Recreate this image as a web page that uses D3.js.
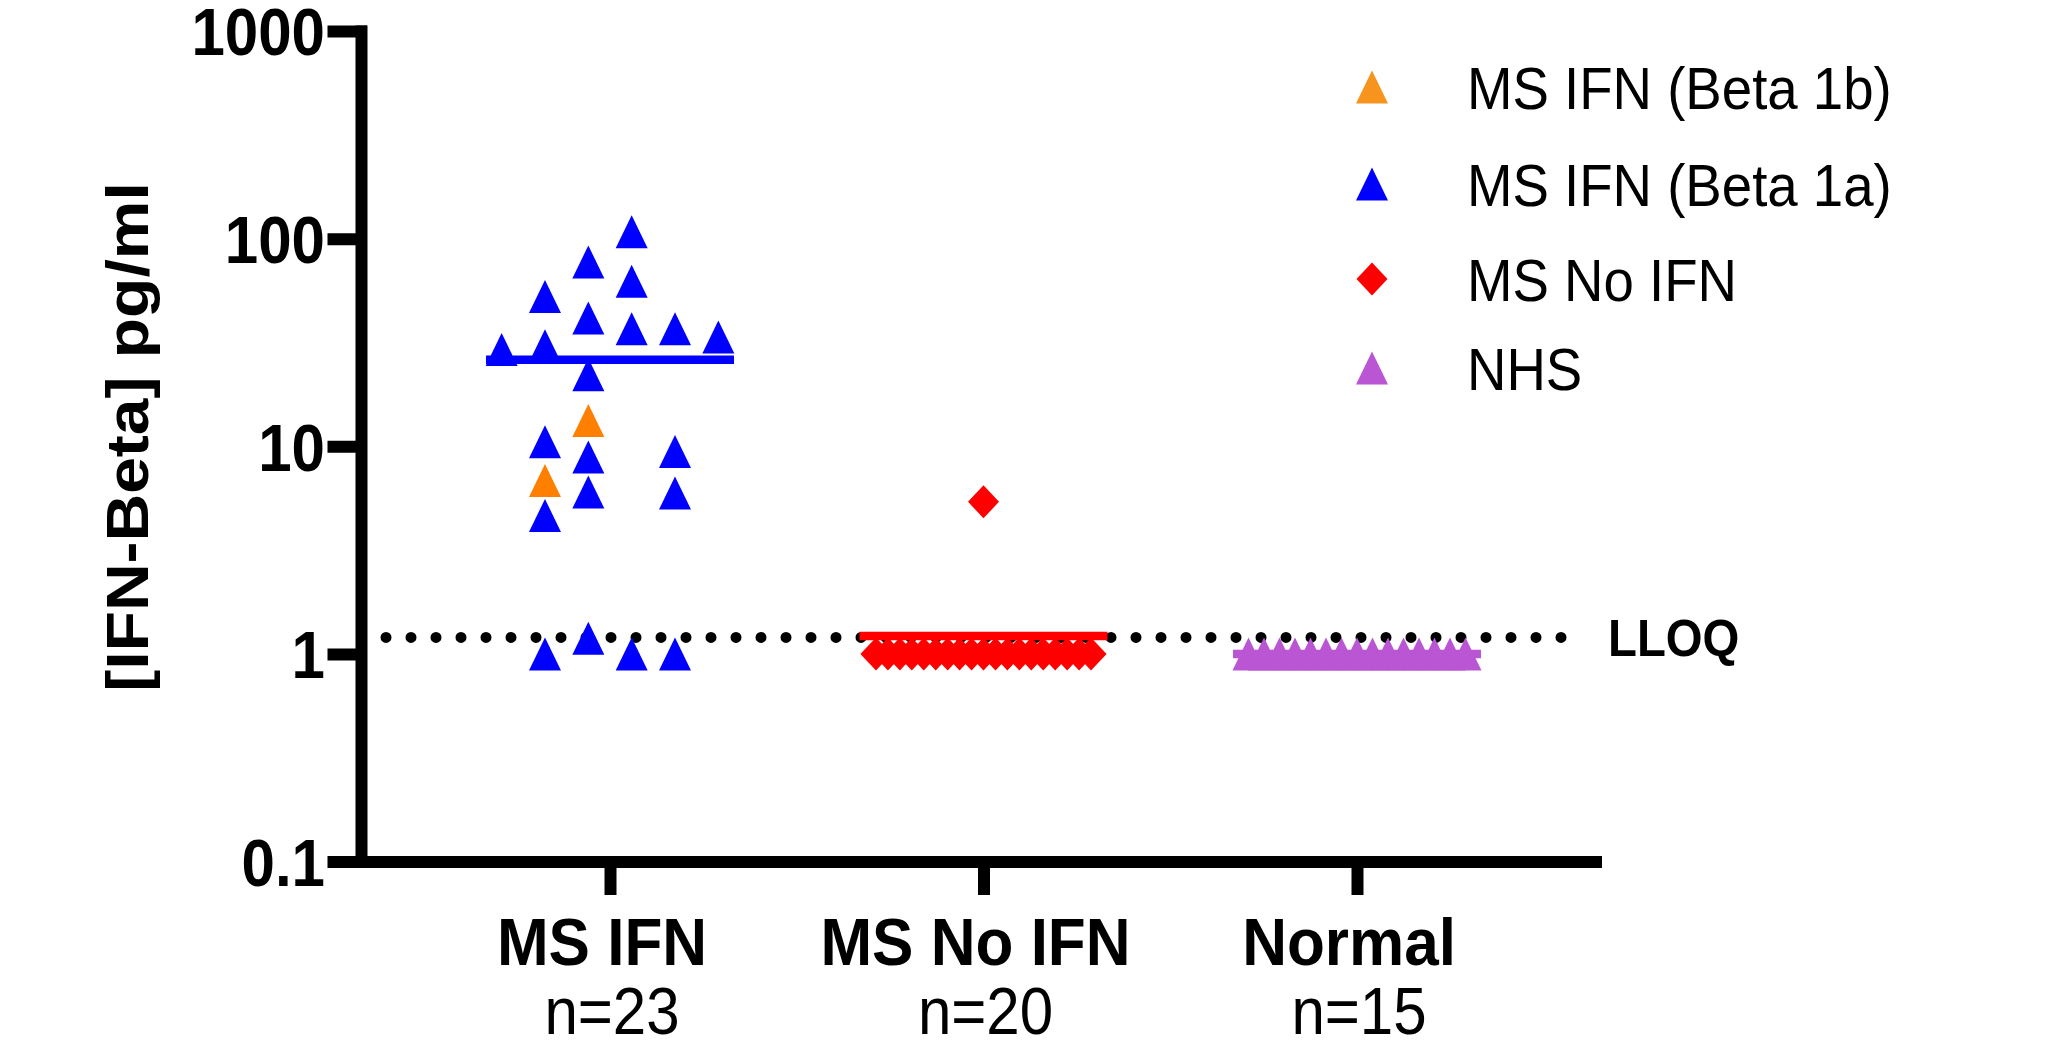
<!DOCTYPE html>
<html>
<head>
<meta charset="utf-8">
<script src="https://cdn.jsdelivr.net/npm/d3@7"></script>
<style>
  body { margin: 0; background: #fff; }
  text { font-family: "Liberation Sans", Arial, Helvetica, sans-serif; fill: #000; }
</style>
</head>
<body>
<div id="chart"></div>
<script>
// groups on the x axis
var categories = ["MS IFN", "MS No IFN", "Normal"];
var counts = ["n=23", "n=20", "n=15"];
var yTicks = [0.1, 1, 10, 100, 1000];
var lloq = 1.2;

// MS IFN group, split by drug. slots = column
var beta1bValues = [13.3, 6.84];
var beta1bSlots = [-1, -3];
var beta1aValues = [108, 77.2, 62.3, 52.7, 41.5, 36.8, 36.8, 33.6, 30.5, 29.2, 22.1, 10.5, 9.44, 8.87, 6.02, 5.95, 4.64, 1.19, 1, 1, 1];
var beta1aSlots = [1, -1, 1, -3, -1, 1, 3, 5, -3, -5, -1, -3, 3, -1, -1, 3, -3, -1, -3, 1, 3];

var msNoIfnValues = [5.4, 1, 1, 1, 1, 1, 1, 1, 1, 1, 1, 1, 1, 1, 1, 1, 1, 1, 1, 1];
var nhsValues = [1, 1, 1, 1, 1, 1, 1, 1, 1, 1, 1, 1, 1, 1, 1];

var legendLabels = ["MS IFN (Beta 1b)", "MS IFN (Beta 1a)", "MS No IFN", "NHS"];
var legendShapes = ["triangle", "triangle", "diamond", "triangle"];
var legendColors = ["#f7941d", "#0000ff", "#ff0000", "#ba55d3"];

var width = 2046,
  height = 1040;
var axisX = 361, axisRight = 1602, lineW = 12, squeeze = 0.91, slotW = 21.67;

var svg = d3.select("#chart")
  .append("svg")
  .attr("width", width)
  .attr("height", height);
svg.append("rect").attr("width", width).attr("height", height).attr("fill", "#fff");

var y = d3.scaleLog().domain([0.1, 1000]).range([861.5, 31]);
var x = d3.scalePoint().domain(categories).range([610, 1357]);

var shapes = {
  triangle: "M0,-16.5L16,16.5L-16,16.5Z",
  diamond: "M0,-16.5L15.5,0L0,16.5L-15.5,0Z"
};

//y axis
var yAxis = svg.append("g")
  .attr("transform", "translate(" + axisX + ",0)")
  .call(d3.axisLeft(y).tickValues(yTicks).tickSize(27.5).tickSizeOuter(0).tickFormat(d => d));
yAxis.selectAll("path, line")
  .attr("stroke", "#000")
  .attr("stroke-width", lineW)
  .attr("stroke-linecap", "square");
yAxis.selectAll("text")
  .attr("x", null)
  .attr("dy", "0.36em")
  .attr("transform", "translate(-36,0) scale(" + squeeze + ",1)")
  .attr("font-size", 66)
  .attr("font-weight", "bold");

//x axis
svg.append("line")
  .attr("x1", axisX + 0.5 - 33.5).attr("x2", axisRight)
  .attr("y1", y(0.1) + 0.5).attr("y2", y(0.1) + 0.5)
  .attr("stroke", "#000")
  .attr("stroke-width", lineW);
var xAxis = svg.append("g")
  .attr("transform", "translate(0," + y(0.1) + ")")
  .call(d3.axisBottom(x).tickSize(33.5).tickSizeOuter(0).tickFormat(""));
xAxis.select(".domain").remove();
xAxis.selectAll("line").attr("stroke", "#000").attr("stroke-width", lineW);

svg.selectAll(".cat_label")
  .data(categories)
  .enter().append("text")
  .attr("class", "cat_label")
  .attr("transform", d => "translate(" + (x(d) - 8) + ",965) scale(0.94,1)")
  .attr("text-anchor", "middle")
  .attr("font-size", 66)
  .attr("font-weight", "bold")
  .text(d => d);
svg.selectAll(".count_label")
  .data(counts)
  .enter().append("text")
  .attr("class", "count_label")
  .attr("transform", (d, i) => "translate(" + (x(categories[i]) + 2) + ",1034) scale(" + squeeze + ",1)")
  .attr("text-anchor", "middle")
  .attr("font-size", 66)
  .text(d => d);

svg.append("text")
  .attr("transform", "translate(148,437) scale(" + squeeze + ",1) rotate(-90)")
  .attr("text-anchor", "middle")
  .attr("font-size", 66)
  .attr("font-weight", "bold")
  .text("[IFN-Beta] pg/ml");

//LLOQ dotted line
svg.append("line")
  .attr("x1", axisX + 25).attr("x2", axisX + 25 + 48 * 25)
  .attr("y1", y(lloq)).attr("y2", y(lloq))
  .attr("stroke", "#000")
  .attr("stroke-width", 11)
  .attr("stroke-linecap", "round")
  .attr("stroke-dasharray", "0 25");
svg.append("text")
  .attr("transform", "translate(1608," + (y(lloq) + 0.36 * 52) + ") scale(" + squeeze + ",1)")
  .attr("font-size", 52)
  .attr("font-weight", "bold")
  .text("LLOQ");

//points
var points = [];
beta1aValues.forEach((v, i) => points.push({ cat: categories[0], value: v, dx: beta1aSlots[i] * slotW, shape: "triangle", color: "#0000ff" }));
beta1bValues.forEach((v, i) => points.push({ cat: categories[0], value: v, dx: beta1bSlots[i] * slotW, shape: "triangle", color: "#ff8000" }));

// equal values sit side by side in one row
function spreadRow(values, cat, step, shape, color) {
  var n = d3.rollup(values, g => g.length, d => d);
  var seen = new Map();
  values.forEach(v => {
    var k = seen.get(v) || 0;
    seen.set(v, k + 1);
    points.push({ cat: cat, value: v, dx: (k - (n.get(v) - 1) / 2) * step, shape: shape, color: color });
  });
}
spreadRow(msNoIfnValues, categories[1], 11.95, "diamond", "#ff0000");
spreadRow(nhsValues, categories[2], 15.5, "triangle", "#ba55d3");

svg.selectAll(".point")
  .data(points)
  .enter().append("path")
  .attr("class", "point")
  .attr("d", d => shapes[d.shape])
  .attr("transform", d => "translate(" + (x(d.cat) + d.dx) + "," + y(d.value) + ")")
  .attr("fill", d => d.color);

//mean lines
var means = [
  { cat: categories[0], values: beta1aValues.concat(beta1bValues), color: "#0000ff" },
  { cat: categories[1], values: msNoIfnValues, color: "#ff0000" },
  { cat: categories[2], values: nhsValues, color: "#ba55d3" }
];
svg.selectAll(".mean_line")
  .data(means)
  .enter().append("line")
  .attr("class", "mean_line")
  .attr("x1", d => x(d.cat) - 124)
  .attr("x2", d => x(d.cat) + 124)
  .attr("y1", d => y(d3.mean(d.values)))
  .attr("y2", d => y(d3.mean(d.values)))
  .attr("stroke", d => d.color)
  .attr("stroke-width", 8.5);

//legend
var legendY = [87, 184, 279, 368];
var legend = svg.selectAll(".legend_row")
  .data(legendLabels)
  .enter().append("g")
  .attr("class", "legend_row")
  .attr("transform", (d, i) => "translate(1372," + legendY[i] + ")");
legend.append("path")
  .attr("d", (d, i) => shapes[legendShapes[i]])
  .attr("fill", (d, i) => legendColors[i]);
legend.append("text")
  .attr("transform", "translate(95," + (0.36 * 60) + ") scale(" + squeeze + ",1)")
  .attr("font-size", 60)
  .text(d => d);
</script>
</body>
</html>
